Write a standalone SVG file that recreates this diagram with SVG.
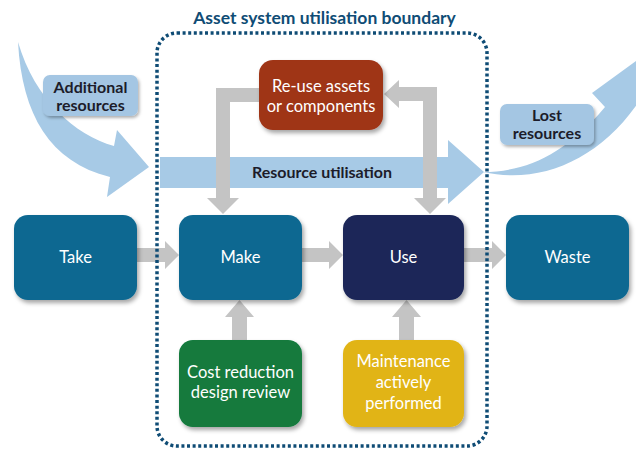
<svg xmlns="http://www.w3.org/2000/svg" width="636" height="450" viewBox="0 0 636 450">
<defs>
<filter id="sh" x="-20%" y="-20%" width="140%" height="150%">
<feDropShadow dx="2" dy="3" stdDeviation="2" flood-color="#000" flood-opacity="0.35"/>
</filter>
<filter id="sh2" x="-20%" y="-20%" width="140%" height="150%">
<feDropShadow dx="1.5" dy="2" stdDeviation="1.5" flood-color="#000" flood-opacity="0.3"/>
</filter>
</defs>
<style>
.flow{fill:#a7cae6}
.gray{fill:#c4c4c4}
.node{filter:url(#sh)}
.lbl{font-family:Lato,"Noto Sans","Liberation Sans",sans-serif;font-size:16.5px;fill:#ffffff;text-anchor:middle}
.blbl{font-family:Lato,"Noto Sans","Liberation Sans",sans-serif;font-size:16px;font-weight:bold;fill:#1c1c2a;text-anchor:middle}
.tag{fill:#a4c6e3;filter:url(#sh2)}
</style>
<rect width="636" height="450" fill="#ffffff"/>

<g id="flows">
<path class="flow" d="M18,42 C22,115 50,162 110,177 L107,197 L149,167 L117,130 L114,146 C75,135 35,100 18,42 Z"/>
<path class="flow" d="M160,157 H448 V140 L484,172 L448,204 V188 H160 Z"/>
<path class="flow" d="M483,172 C525,172 565,155 605,107 L592,93 L665,40 L690,100 L640,100 C600,160 540,185 483,172 Z"/>
</g>

<g id="connectors">
<path class="gray" d="M137,248 H165 V241 L179,255 L165,269 V262 H137 Z"/>
<path class="gray" d="M302,248 H329 V241 L343,255 L329,269 V262 H302 Z"/>
<path class="gray" d="M464,248 H492 V241 L506,255 L492,269 V262 H464 Z"/>
<path class="gray" d="M232,340 V317 H225 L239.5,300 L254,317 H247 V340 Z"/>
<path class="gray" d="M399,340 V317 H392 L406.5,300 L421,317 H414 V340 Z"/>
<path class="gray" d="M259,88 H216 V198 H207 L223,214 L239,198 H230 V102 H259 Z"/>
<path class="gray" d="M384,94 L399,80 V87 H437 V198 H446 L430,214 L414,198 H423 V101 H399 V108 Z"/>
</g>

<g id="boundary">
<rect x="157" y="33" width="330" height="413" rx="20" fill="none" stroke="#0f4c75" stroke-width="3.5" stroke-dasharray="3 2.6"/>
<text x="324.5" y="24" font-family="Lato,'Noto Sans','Liberation Sans',sans-serif" font-size="17.5" font-weight="bold" fill="#0f4c75" text-anchor="middle">Asset system utilisation boundary</text>
</g>

<g id="resource-utilisation">
<text class="blbl" x="322" y="178" font-size="16.5">Resource utilisation</text>
</g>

<g id="additional-resources">
<rect class="tag" x="43" y="75" width="95" height="41" rx="7"/>
<text class="blbl" x="90.5" y="92.5">Additional</text>
<text class="blbl" x="90.5" y="110.5">resources</text>
</g>

<g id="lost-resources">
<rect class="tag" x="500" y="104" width="94" height="41" rx="7"/>
<text class="blbl" x="547" y="121">Lost</text>
<text class="blbl" x="547" y="139">resources</text>
</g>

<g id="take">
<rect class="node" x="14" y="215" width="123" height="85" rx="14" fill="#0b6891"/>
<text class="lbl" x="75.5" y="263">Take</text>
</g>
<g id="make">
<rect class="node" x="179" y="215" width="123" height="85" rx="14" fill="#0b6891"/>
<text class="lbl" x="240.5" y="263">Make</text>
</g>
<g id="use">
<rect class="node" x="343" y="215" width="121" height="85" rx="14" fill="#1b2658"/>
<text class="lbl" x="403.5" y="263">Use</text>
</g>
<g id="waste">
<rect class="node" x="506" y="215" width="123" height="85" rx="14" fill="#0b6891"/>
<text class="lbl" x="567.5" y="263">Waste</text>
</g>
<g id="reuse">
<rect class="node" x="259" y="60" width="124" height="70" rx="14" fill="#9f3519"/>
<text class="lbl" x="321" y="92">Re-use assets</text>
<text class="lbl" x="321" y="112">or components</text>
</g>
<g id="cost-reduction">
<rect class="node" x="179" y="340" width="123" height="87" rx="14" fill="#127a3d"/>
<text class="lbl" x="240.5" y="378">Cost reduction</text>
<text class="lbl" x="240.5" y="398">design review</text>
</g>
<g id="maintenance">
<rect class="node" x="343" y="340" width="121" height="87" rx="14" fill="#e1b416"/>
<text class="lbl" x="403.5" y="367">Maintenance</text>
<text class="lbl" x="403.5" y="388">actively</text>
<text class="lbl" x="403.5" y="409">performed</text>
</g>
</svg>
